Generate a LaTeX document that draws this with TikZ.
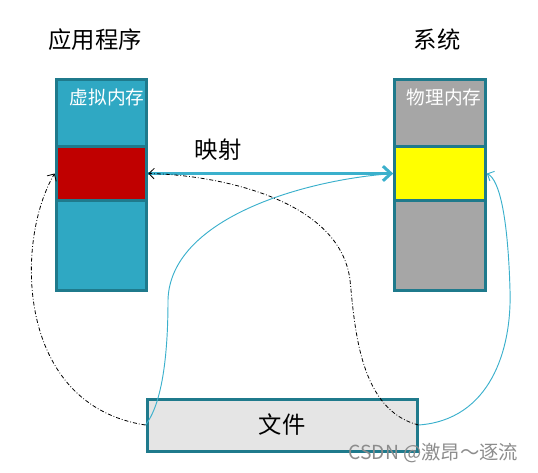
\documentclass[tikz,border=0pt]{standalone}
\usepackage{fontspec}
\setmainfont{Noto Sans CJK SC}
\usetikzlibrary{arrows.meta}
\definecolor{memBorder}{HTML}{1F7A8C}
\definecolor{virtFill}{HTML}{2FA8C3}
\definecolor{virtPage}{HTML}{C00000}
\definecolor{physFill}{HTML}{A6A6A6}
\definecolor{physPage}{HTML}{FFFF00}
\definecolor{fileFill}{HTML}{E5E5E5}
\definecolor{mapLine}{HTML}{3BB0CC}
\tikzset{
	seg/.style={draw=memBorder, line width=2.25pt, minimum width=68pt, inner sep=0pt},
	title/.style={font=\fontsize{17.5}{20}\selectfont},
	memlab/.style={text=white, font=\fontsize{14}{16}\selectfont, inner sep=0pt},
	dashdot map/.style={black, line width=0.6pt, dash pattern=on 3pt off 1.5pt on 0.6pt off 1.5pt, -{Straight Barb[length=4pt,width=8pt]}},
	solid map/.style={mapLine, line width=0.7pt}
}

\begin{document}
\begin{tikzpicture}[x=0.75pt, y=-0.75pt]
			\useasboundingbox (0,0) rectangle (538,472);
			\node[title] (apptitle) at (95,40) {应用程序};
			\node[title] (systitle) at (437,40) {系统};
			% virtual memory column
			\node[seg, fill=virtFill, minimum height=51pt] (vtop) at (101.5,113) {};
			\node[seg, fill=virtPage, minimum height=40pt] (vmid) at (101.5,173.5) {};
			\node[seg, fill=virtFill, minimum height=68pt] (vbot) at (101.5,245.5) {};
			\node[memlab] (vlab) at (107,97) {虚拟内存};
			% physical memory column
			\node[seg, fill=physFill, minimum height=51pt] (ptop) at (440,113) {};
			\node[seg, fill=physPage, minimum height=40pt] (pmid) at (440,173.5) {};
			\node[seg, fill=physFill, minimum height=68pt] (pbot) at (440,245.5) {};
			\node[memlab] (plab) at (444,97) {物理内存};
			% file
			\node[draw=memBorder, line width=2.25pt, fill=fileFill, minimum width=202.5pt, minimum height=39pt, font=\fontsize{17.5}{20}\selectfont] (file) at (282,425) {文件};
			\node[title] (maplab) at (218,150) {映射};
			\draw[mapLine, line width=2.25pt, -{Straight Barb[length=6pt,width=11pt]}] (vmid.east) -- (pmid.west);
			\draw[solid map] (file.west) .. controls (165,400) and (168,340) .. (168,300) .. controls (170,220) and (300,180) .. (pmid.west);
			\draw[solid map, -{Straight Barb[length=4pt,width=8pt]}] (file.east) .. controls (490,420) and (512,350) .. (510,290) .. controls (508,220) and (500,180) .. (pmid.east);
			\draw[dashdot map] (file.west) .. controls (15,405) and (15,240) .. (vmid.west);
			\draw[dashdot map] (file.east) .. controls (360,410) and (355,330) .. (350,280) .. controls (340,200) and (220,175) .. (vmid.east);
			\node[text=black!45, font=\fontsize{14.5}{16}\selectfont, anchor=east] (mark) at (523,453) {CSDN @激昂～逐流};
		\end{tikzpicture}
\end{document}
